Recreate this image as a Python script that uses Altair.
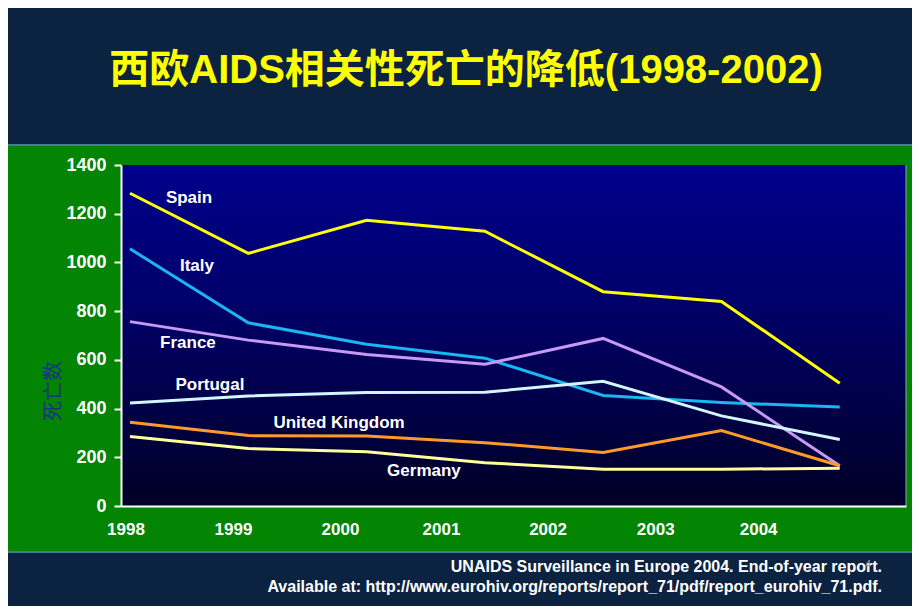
import json
import altair as alt
import pandas as pd

# ---------------- data ----------------
series_names = ["Spain", "Italy", "France", "Portugal", "United Kingdom", "Germany"]
point_index = [0, 1, 2, 3, 4, 5, 6]
spain = [1284, 1037, 1173, 1128, 880, 840, 504]
italy = [1056, 752, 664, 607, 454, 425, 406]
france = [757, 681, 622, 582, 688, 489, 165]
portugal = [423, 452, 466, 467, 512, 370, 273]
uk = [344, 289, 287, 260, 220, 310, 165]
germany = [285, 236, 223, 178, 151, 151, 155]
series_values = [spain, italy, france, portugal, uk, germany]
series_colors = ["#ffff00", "#1ab6f2", "#c898f5", "#d2f6ff", "#ff9a2a", "#ffff99"]

label_x = [0.499, 0.566, 0.49, 0.676, 1.767, 2.485]
label_y = [1264, 985, 669, 497, 341, 144]

year_labels = ["1998", "1999", "2000", "2001", "2002", "2003", "2004"]
year_pos = [-0.038, 0.871, 1.775, 2.629, 3.53, 4.44, 5.31]
y_ticks = [0, 200, 400, 600, 800, 1000, 1200, 1400]

title_text = "西欧AIDS相关性死亡的降低(1998-2002)"
y_title = "死亡数"
foot1 = "UNAIDS Surveillance in Europe 2004. End-of-year report."
foot2 = "Available at: http://www.eurohiv.org/reports/report_71/pdf/report_eurohiv_71.pdf."

# ---------------- tables ----------------
rows = []
for name, vals in zip(series_names, series_values):
    for i, v in zip(point_index, vals):
        rows.append({"series": name, "x": i, "y": v})
df = pd.DataFrame(rows)
lab = pd.DataFrame({"series": series_names, "x": label_x, "y": label_y})
one = pd.DataFrame({"a": [0]})

W, H = 785, 341
FONT = "Liberation Sans, Arial, Noto Sans CJK SC"

xscale = alt.Scale(domain=[-0.076, 6.56], nice=False, zero=False)
yscale = alt.Scale(domain=[0, 1400], nice=False)

step = (year_pos[-1] - year_pos[0]) / (len(year_pos) - 1)
label_expr = f"{json.dumps(year_labels)}[round((datum.value - ({year_pos[0]})) / {step})]"

base1 = alt.Chart(one)

green = base1.mark_rect(color="#038403").encode(
    x=alt.value(-113), x2=alt.value(791), y=alt.value(-20), y2=alt.value(387)
)
green_top = base1.mark_rule(color="#3f7f96", strokeWidth=2).encode(
    x=alt.value(-113), x2=alt.value(791), y=alt.value(-20)
)
green_bot = base1.mark_rule(color="#3f7f96", strokeWidth=2).encode(
    x=alt.value(-113), x2=alt.value(791), y=alt.value(387)
)

grad = alt.LinearGradient(
    gradient="linear",
    stops=[
        alt.GradientStop(color="#00008c", offset=0),
        alt.GradientStop(color="#00006a", offset=0.4),
        alt.GradientStop(color="#000026", offset=1),
    ],
    x1=0, x2=0, y1=0, y2=1,
)
plotbg = base1.mark_rect(color=grad).encode(
    x=alt.value(0), x2=alt.value(W), y=alt.value(0), y2=alt.value(H)
)
right_edge = base1.mark_rule(color="#9aa0b8", strokeWidth=1).encode(
    x=alt.value(W), y=alt.value(0), y2=alt.value(H)
)

lines = alt.Chart(df).mark_line(strokeWidth=3, clip=False).encode(
    x=alt.X(
        "x:Q",
        scale=xscale,
        axis=alt.Axis(
            title=None,
            values=year_pos,
            labelExpr=label_expr,
            grid=False,
            ticks=False,
            tickSize=0,
            labelPadding=15,
            domainColor="#ffffff",
            domainWidth=2,
            labelColor="#ffffff",
            labelFont=FONT,
            labelFontSize=17,
            labelFontWeight="bold",
            zindex=1,
        ),
    ),
    y=alt.Y(
        "y:Q",
        scale=yscale,
        axis=alt.Axis(
            title=None,
            values=y_ticks,
            format="d",
            grid=False,
            tickSize=7,
            tickWidth=2,
            tickColor="#ffffff",
            domainColor="#ffffff",
            domainWidth=2,
            labelPadding=8,
            labelColor="#ffffff",
            labelFont=FONT,
            labelFontSize=18,
            labelFontWeight="bold",
            zindex=1,
        ),
    ),
    color=alt.Color(
        "series:N",
        scale=alt.Scale(domain=series_names, range=series_colors),
        legend=None,
    ),
    detail="series:N",
)

labels = alt.Chart(lab).mark_text(
    color="#ffffff", font=FONT, fontSize=17, fontWeight="bold",
    align="center", baseline="middle",
).encode(
    x=alt.X("x:Q", scale=xscale),
    y=alt.Y("y:Q", scale=yscale),
    text="series:N",
)

title = base1.mark_text(
    text=title_text, color="#ffff00", font=FONT, fontSize=40, fontWeight="bold",
    align="center", baseline="middle",
).encode(x=alt.value(345), y=alt.value(-94))

ytitle = base1.mark_text(
    text=y_title, color="#1a3288", font="Noto Sans CJK SC", fontSize=20,
    angle=270, align="center", baseline="middle",
).encode(x=alt.value(-67), y=alt.value(226))

f1 = base1.mark_text(
    text=foot1, color="#ffffff", font=FONT, fontSize=16, fontWeight="bold",
    align="right", baseline="middle",
).encode(x=alt.value(761), y=alt.value(402))
f2 = base1.mark_text(
    text=foot2, color="#ffffff", font=FONT, fontSize=16, fontWeight="bold",
    align="right", baseline="middle",
).encode(x=alt.value(761), y=alt.value(422))
pagenum = base1.mark_text(
    text="4", color="#9a9a9a", font=FONT, fontSize=11,
    align="center", baseline="middle",
).encode(x=alt.value(747), y=alt.value(400))

chart = alt.layer(
    green, green_top, green_bot, plotbg, right_edge, lines, labels,
    title, ytitle, f1, f2, pagenum,
).properties(
    width=W,
    height=H,
    background="#0b2341",
    padding={"left": 113, "top": 157, "right": 6, "bottom": 100},
    autosize=alt.AutoSizeParams(type="none"),
).configure_view(stroke=None)

chart.save("out.html", embed_options={"renderer": "svg", "actions": False})
